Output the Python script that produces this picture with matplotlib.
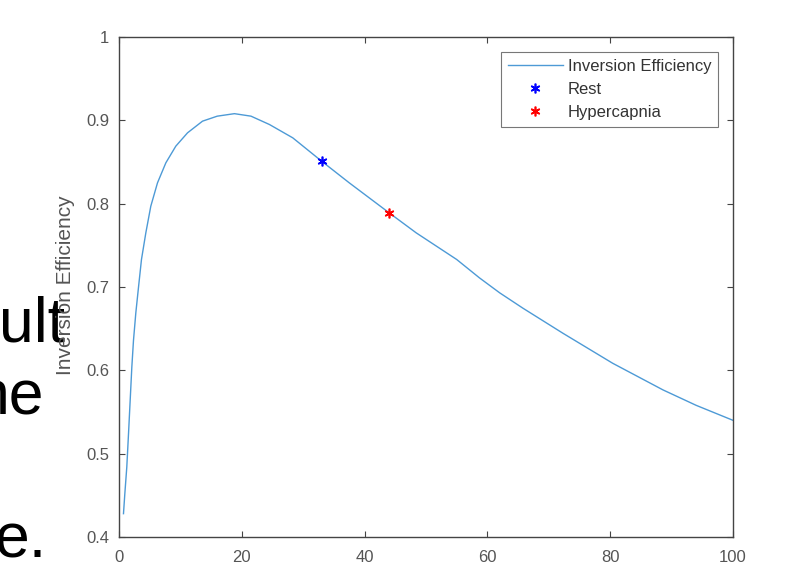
import matplotlib.pyplot as plt

plt.rcParams['font.family'] = ['Liberation Sans', 'DejaVu Sans']

# inversion efficiency curve, read point by point
curve_x = [0.73, 0.95, 1.27, 1.55, 1.82, 2.09, 2.36, 2.74, 3.18, 3.66, 4.37, 5.18,
           6.27, 7.63, 9.25, 11.16, 13.6, 16.0, 18.8, 21.5, 24.5, 28.3, 33.0, 37.5,
           44.0, 48.4, 55.0, 58.7, 62.0, 65.8, 72.3, 80.4, 88.6, 94.0, 100.0]
curve_y = [0.428, 0.452, 0.484, 0.524, 0.564, 0.604, 0.636, 0.669, 0.700, 0.733,
           0.765, 0.797, 0.825, 0.849, 0.869, 0.885, 0.899, 0.905, 0.908, 0.905,
           0.895, 0.879, 0.851, 0.825, 0.789, 0.765, 0.733, 0.711, 0.693, 0.6745,
           0.6445, 0.6085, 0.5765, 0.558, 0.540]

rest_x = [33.0]
rest_y = [0.851]
hyper_x = [44.0]
hyper_y = [0.789]

xticks = [0, 20, 40, 60, 80, 100]
yticks = [0.4, 0.5, 0.6, 0.7, 0.8, 0.9, 1.0]
ytick_labels = ['0.4', '0.5', '0.6', '0.7', '0.8', '0.9', '1']

W, H = 809, 568
fig = plt.figure(figsize=(W / 100, H / 100), dpi=100)

# slide text sitting behind the chart
fig.text(-1 / W, 1 - 342 / H, 'ult', fontsize=45, color='black', zorder=0)
fig.text(-25 / W, 1 - 414 / H, 'he', fontsize=45, color='black', zorder=0)
fig.text(-6 / W, 1 - 557 / H, 'e.', fontsize=45, color='black', zorder=0)

ax = fig.add_axes([119 / W, 31 / H, 614 / W, 500 / H])
ax.set_zorder(2)

ax.plot(curve_x, curve_y, color='#4d9ad6', lw=1.0, label='Inversion Efficiency')
ax.plot(rest_x, rest_y, ls='none', marker=(6, 2, 0), ms=7, mew=1.2, color='#0000ff', label='Rest')
ax.plot(hyper_x, hyper_y, ls='none', marker=(6, 2, 0), ms=7, mew=1.2, color='#ff0000', label='Hypercapnia')

ax.set_xlim(0, 100)
ax.set_ylim(0.4, 1.0)
ax.set_xticks(xticks)
ax.set_yticks(yticks)
ax.set_yticklabels(ytick_labels)

axis_col = '#444444'
for s in ax.spines.values():
    s.set_color(axis_col)
    s.set_linewidth(1.0)
ax.tick_params(direction='in', length=4, width=0.8, color=axis_col, labelcolor='#555555',
               labelsize=12, top=True, right=True)
ax.tick_params(axis='x', pad=9)
ax.tick_params(axis='y', pad=7)

ax.set_ylabel('Inversion Efficiency', fontsize=15, color='#555555')
ax.yaxis.set_label_coords(-0.072, 0.504)

leg = ax.legend(loc='upper right', bbox_to_anchor=(599 / 614, 485 / 500), borderaxespad=0,
                fontsize=12, frameon=True, fancybox=False, edgecolor='#555555',
                handlelength=3.3, handletextpad=0.3, borderpad=0.4, labelspacing=0.5)
leg.get_frame().set_linewidth(0.8)
for t in leg.get_texts():
    t.set_color('#333333')

fig.savefig('out.png', dpi=100)
